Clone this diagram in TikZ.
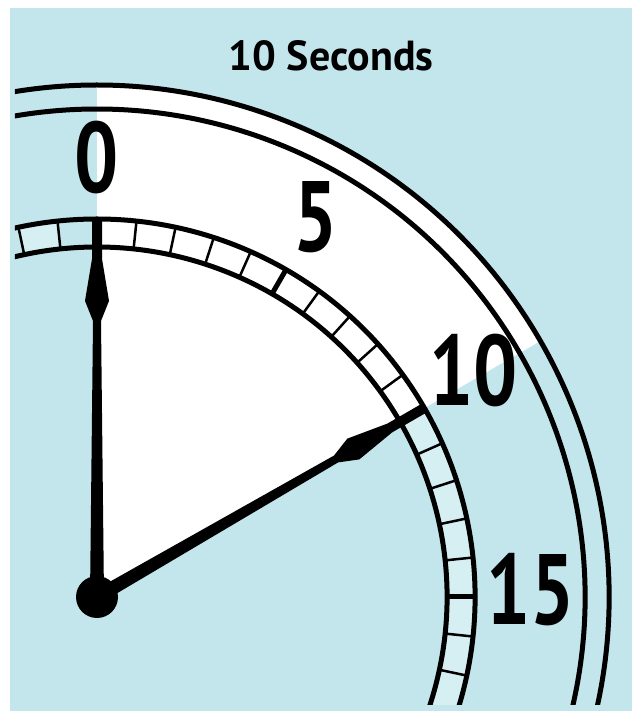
\documentclass[tikz,border=0pt]{standalone}
\usepackage{fontspec}
\setmainfont{PT Sans}
\newfontfamily\dialfont[FakeStretch=0.78]{PT Sans}
\definecolor{dialblue}{RGB}{195,230,236}
\definecolor{cellblue}{RGB}{214,239,243}
\tikzset{
  rim/.style={line width=5pt},
  celltick/.style={line width=2.5pt},
  numeral/.style={font=\dialfont\fontsize{100}{100}\selectfont\bfseries, inner sep=0pt},
}
\begin{document}
\begin{tikzpicture}[x=1pt, y=1pt]
				% fond
				\fill[white] (-97,-114) rectangle (535,597);
				\fill[dialblue] (-87,-114) rectangle (535,589);
				\begin{scope}
				\clip (-82,-107) rectangle (535,589);
				% secteur blanc
				\fill[white] (0,0) -- (90:512) arc (90:30:512) -- cycle;
				% cases de l'anneau
				\fill[cellblue] (-20:350) arc (-20:30:350) -- (30:378) arc (30:-20:378) -- cycle;
				\fill[cellblue] (96:350) arc (96:102:350) -- (102:378) arc (102:96:378) -- cycle;
				% anneau gradue
				\draw[rim] (-20:350) arc (-20:110:350);
				\draw[rim] (-20:378) arc (-20:110:378);
				\foreach \a in {-18,-12,...,108}
					\draw[celltick] (\a:350) -- (\a:378);
				\foreach \a in {0,30,60,90}
					\draw[rim] (\a:350) -- (\a:378);
				% cercles exterieurs
				\draw[rim] (-20:488) arc (-20:115:488);
				\draw[rim] (-20:512) arc (-20:115:512);
				\end{scope}
				% aiguilles
				\foreach \a in {90,30}
					\fill[rotate=\a] (0,-7) -- (276,-4) -- (296,-12) -- (338,-5) -- (378,-5)
						-- (378,5) -- (338,5) -- (296,12) -- (276,4) -- (0,7) -- cycle;
				\node[circle, fill=black, minimum size=42pt, inner sep=0pt] (hub) at (0,0) {};
				% chiffres
				\node[numeral] (zero) at (90:439) {0};
				\node[numeral] (five) at (60:438) {5};
				\node[numeral] (ten) at (31:439) {10};
				\node[numeral] (fifteen) at (1:434) {15};
				\node[font=\fontsize{42}{42}\selectfont\bfseries] (title) at (234,541) {10 Seconds};
		\end{tikzpicture}
\end{document}
